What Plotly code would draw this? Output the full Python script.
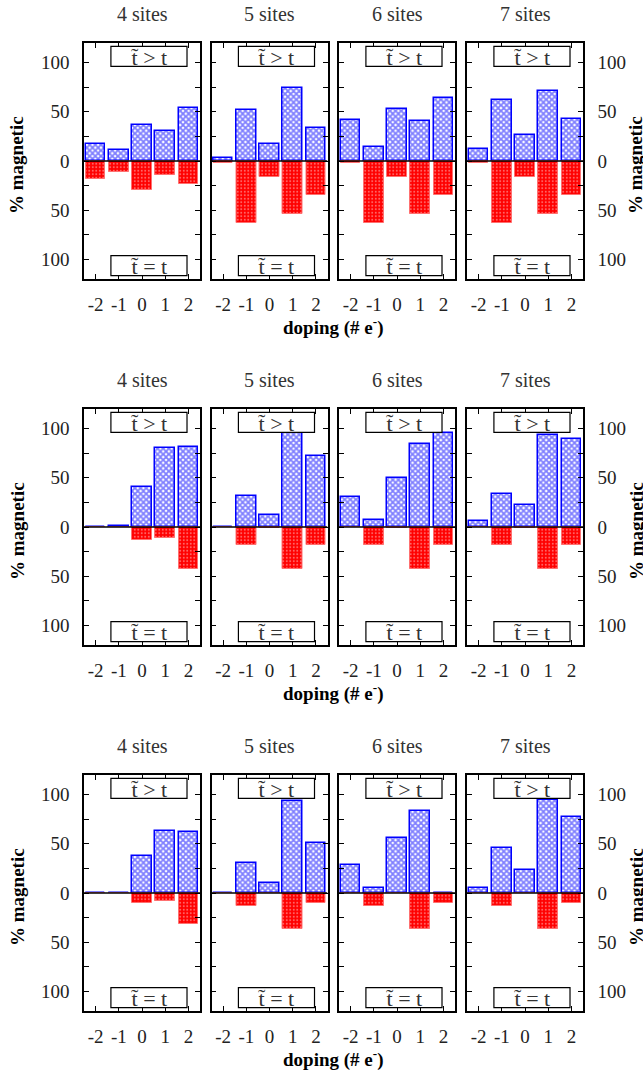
import plotly.graph_objects as go
from plotly.subplots import make_subplots

doping = [-2, -1, 0, 1, 2]
sites = ["4 sites", "5 sites", "6 sites", "7 sites"]

# upward bars (t~ > t) and downward bars (t~ = t), per row, per site count
row1_gt = [[17.7, 11, 37, 31, 54], [3, 52, 17, 74, 34], [41.5, 14, 53, 40.5, 64], [12, 62, 26.5, 71, 43]]
row1_eq = [[18, 11, 29, 14, 23], [2.5, 63, 16, 54, 35], [2.5, 63, 16, 54, 35], [2.5, 63, 16, 54, 35]]
row2_gt = [[0.5, 1, 40.5, 80, 81], [0.5, 31.6, 12.6, 95.6, 72.4], [31, 7, 50, 84, 95.2], [5.8, 34, 22.4, 93.2, 89.8]]
row2_eq = [[0.5, 0.5, 13, 11, 42.5], [0.5, 18.7, 1, 42.5, 18.7], [0.5, 18.7, 1, 42.5, 18.7], [0, 18.7, 1, 42.5, 18.7]]
row3_gt = [[0.5, 0.5, 37.8, 62.9, 61.9], [0.5, 30.3, 9.9, 93.9, 51], [28.2, 5.1, 55.8, 83.3, 0], [5.1, 45.9, 23.5, 94.9, 77.2]]
row3_eq = [[0.5, 0.5, 9.9, 7.8, 31.6], [0.5, 12.9, 0.5, 36.4, 9.9], [0, 12.9, 0, 36.4, 9.9], [0, 12.9, 0, 36.4, 9.9]]

gt_rows = [row1_gt, row2_gt, row3_gt]
eq_rows = [row1_eq, row2_eq, row3_eq]

ytick_vals = [-100, -75, -50, -25, 0, 25, 50, 75, 100]
ytick_text = ["100", "", "50", "", "0", "", "50", "", "100"]

W, H = 643, 1075
FONT = "Liberation Serif"

fig = make_subplots(rows=3, cols=4)

col_left = [84, 211.5, 339, 467]
pw = 116
row_top = [43, 409, 775]
ph = 236

def px(x):
    return x / W

def py(y):
    return 1 - y / H

for r in range(3):
    for c in range(4):
        gt = gt_rows[r][c]
        eq = eq_rows[r][c]
        fig.add_trace(go.Bar(
            x=doping, y=gt, width=0.84,
            marker=dict(color="white",
                        line=dict(color="#0000ff", width=1.5),
                        pattern=dict(shape="x", fgcolor="#0000ff", bgcolor="white",
                                     size=4, solidity=0.7)),
            showlegend=False, hoverinfo="skip"), row=r + 1, col=c + 1)
        fig.add_trace(go.Bar(
            x=doping, y=[-v for v in eq], width=0.84,
            marker=dict(color="#ff0000",
                        line=dict(color="#ff7070", width=1),
                        pattern=dict(shape=".", fgcolor="#ffd0d0", bgcolor="#ff0000",
                                     size=3.5, solidity=0.25)),
            showlegend=False, hoverinfo="skip"), row=r + 1, col=c + 1)

        idx = r * 4 + c + 1
        xa = "xaxis" if idx == 1 else f"xaxis{idx}"
        ya = "yaxis" if idx == 1 else f"yaxis{idx}"
        xref = "x" if idx == 1 else f"x{idx}"
        yref = "y" if idx == 1 else f"y{idx}"
        x0 = col_left[c]
        y0 = row_top[r]
        fig.layout[xa].update(
            domain=[px(x0), px(x0 + pw)], range=[-2.5, 2.5],
            tickvals=doping, ticktext=[str(d) for d in doping],
            ticks="inside", ticklen=5, tickwidth=1, tickcolor="black",
            showline=True, linecolor="black", linewidth=1.5, mirror="ticks",
            showgrid=False, zeroline=False, fixedrange=True,
            tickfont=dict(family=FONT, size=19, color="#222"),
            ticklabelstandoff=7)
        yax = dict(
            domain=[py(y0 + ph), py(y0)], range=[-120, 120],
            tickvals=ytick_vals, ticktext=ytick_text,
            ticks="inside", ticklen=5, tickwidth=1, tickcolor="black",
            showline=True, linecolor="black", linewidth=1.5, mirror="ticks",
            showgrid=False, zeroline=False, fixedrange=True,
            tickfont=dict(family=FONT, size=19, color="#222"),
            showticklabels=(c == 0 or c == 3),
            ticklabelstandoff=9)
        if c == 3:
            yax["side"] = "right"
        fig.layout[ya].update(**yax)

        # zero line
        fig.add_shape(type="line", xref=xref, yref=yref, x0=-2.5, x1=2.5, y0=0, y1=0,
                      line=dict(color="black", width=1.5), layer="above")
        # label boxes
        for (b0, b1, txt) in [(96.2, 116.6, "t\u0303 > t"), (-116.6, -96.2, "t\u0303 = t")]:
            fig.add_shape(type="rect", xref=xref, yref=yref, x0=-1.34, x1=1.94, y0=b0, y1=b1,
                          line=dict(color="black", width=1.2), fillcolor="white", layer="above")
            fig.add_annotation(xref=xref, yref=yref, x=0.3, y=(b0 + b1) / 2 - 1, text=txt,
                               showarrow=False, xanchor="center", yanchor="middle",
                               font=dict(family=FONT, size=22, color="#333"))
        # panel title
        fig.add_annotation(xref="paper", yref="paper", x=px(x0 + pw / 2), y=py(y0 - 29),
                           text=sites[c], showarrow=False, xanchor="center", yanchor="middle",
                           font=dict(family=FONT, size=20, color="#333"))

    # side labels
    yc = py(row_top[r] + ph / 2 + 4)
    fig.add_annotation(xref="paper", yref="paper", x=px(17), y=yc, text="<b>% magnetic</b>",
                       textangle=-90, showarrow=False, xanchor="center", yanchor="middle",
                       font=dict(family=FONT, size=19, color="black"))
    fig.add_annotation(xref="paper", yref="paper", x=px(636), y=yc, text="<b>% magnetic</b>",
                       textangle=-90, showarrow=False, xanchor="center", yanchor="middle",
                       font=dict(family=FONT, size=19, color="black"))
    fig.add_annotation(xref="paper", yref="paper", x=px(333), y=py(row_top[r] + ph + 47),
                       text="<b>doping (# e<sup>-</sup>)</b>", showarrow=False,
                       xanchor="center", yanchor="middle",
                       font=dict(family=FONT, size=19, color="black"))

fig.update_layout(width=W, height=H, margin=dict(l=0, r=0, t=0, b=0),
                  barmode="overlay", plot_bgcolor="white", paper_bgcolor="white",
                  bargap=0, font=dict(family=FONT))

fig.write_html("out.html", config={"displayModeBar": False},
               post_script="document.body.style.margin='0';document.body.style.padding='0';document.documentElement.style.overflow='hidden';")
